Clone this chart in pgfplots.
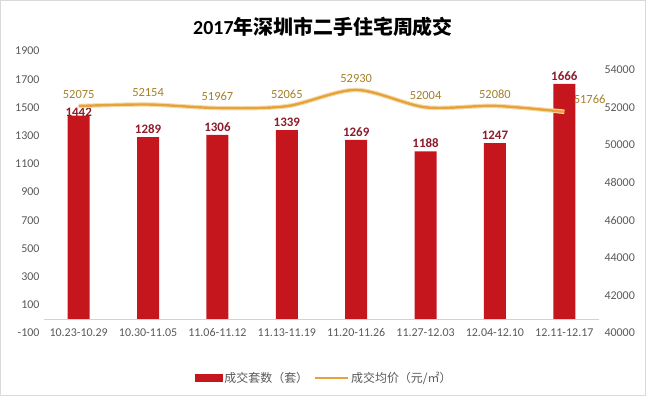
\documentclass[border=0pt]{standalone}
\usepackage{pgfplots}
\pgfplotsset{compat=1.18}
\usepackage{fontspec}
\setmainfont{Carlito}
\newfontfamily\cjk{Noto Sans CJK SC}
\definecolor{barred}{HTML}{C5161D}
\definecolor{barlab}{HTML}{8E1B2B}
\definecolor{lineor}{HTML}{E6A33A}
\definecolor{lineglow}{HTML}{F5DDB0}
\definecolor{linelab}{HTML}{A4802A}
\definecolor{labgray}{HTML}{595959}
\begin{document}
\begin{tikzpicture}[x=1bp,y=1bp]
\useasboundingbox (0,0) rectangle (646,396);
\draw[gray!30] (0.5,0.5) rectangle (645.5,395.5);
\node[text=black] at (323,369) {\fontsize{20}{24}\selectfont\bfseries 2017\cjk 年深圳市二手住宅周成交};
\begin{axis}[
  at={(44bp,63bp)}, anchor=south west,
  width=555bp, height=282bp, scale only axis,
  xmin=-0.5, xmax=7.5, ymin=-100, ymax=1900,
  xtick={0,...,7},
  xticklabels={10.23-10.29,10.30-11.05,11.06-11.12,11.13-11.19,11.20-11.26,11.27-12.03,12.04-12.10,12.11-12.17},
  ytick={-100,100,...,1900},
  axis line style={draw=none}, major tick length=0,
  tick label style={font=\fontsize{12}{14}\selectfont, text=labgray},
  xticklabel style={anchor=center},
  yticklabel style={xshift=-1bp},
  extra y ticks={0}, extra y tick labels={},
  extra y tick style={grid=major, major grid style={draw=gray!35, line width=0.8pt}},
  /pgf/number format/1000 sep={},
  /pgf/number format/assume math mode=true,
  clip=false,
]
\addplot[ybar, bar width=22bp, fill=barred, draw=none] coordinates {
(0,1442)(1,1289)(2,1306)(3,1339)(4,1269)(5,1188)(6,1247)(7,1666)};
\addplot[draw=none, mark=none, nodes near coords,
  every node near coord/.append style={anchor=south, font=\fontsize{13}{15}\selectfont\bfseries, text=barlab}]
  coordinates {(1,1289)(2,1306)(3,1339)(4,1269)(5,1188)(6,1247)(7,1666)};
\addplot[draw=none, mark=none, nodes near coords,
  every node near coord/.append style={anchor=center, yshift=3bp, font=\fontsize{13}{15}\selectfont\bfseries, text=barlab}]
  coordinates {(0,1442)};
\end{axis}
\begin{axis}[
  at={(44bp,63bp)}, anchor=south west,
  width=555bp, height=282bp, scale only axis,
  xmin=-0.5, xmax=7.5, ymin=40000, ymax=55000,
  axis y line*=right, axis x line=none,
  ytick={40000,42000,...,54000},
  axis line style={draw=none}, major tick length=0,
  tick label style={font=\fontsize{12}{14}\selectfont, text=labgray},
  yticklabel style={xshift=2bp},
  scaled y ticks=false,
  /pgf/number format/1000 sep={},
  /pgf/number format/assume math mode=true,
  clip=false,
  legend style={at={(0.505,-0.16)}, anchor=center, draw=none, fill=none,
    legend columns=2, font=\fontsize{12}{14}\selectfont\cjk, text=labgray,
    /tikz/every even column/.append style={column sep=4bp}},
]
\addlegendimage{legend image code/.code={\fill[barred] (0bp,-3.5bp) rectangle (27bp,3.5bp);}}
\addlegendentry{成交套数（套）}
\addplot[lineglow, line width=4.5bp, smooth, forget plot] coordinates {
(0,52075)(1,52154)(2,51967)(3,52065)(4,52930)(5,52004)(6,52080)(7,51766)};
\addplot[lineor, line width=2.4bp, smooth,
  legend image code/.code={\draw[lineor, line width=2bp] (0bp,0bp) -- (33bp,0bp);}] coordinates {
(0,52075)(1,52154)(2,51967)(3,52065)(4,52930)(5,52004)(6,52080)(7,51766)};
\addlegendentry{成交均价（元/㎡）}
\addplot[draw=none, mark=none, forget plot, nodes near coords,
  every node near coord/.append style={anchor=south, yshift=4bp, font=\fontsize{12.5}{14}\selectfont, text=linelab}]
  coordinates {(0,52075)(1,52154)(2,51967)(3,52065)(4,52930)(5,52004)(6,52080)};
\addplot[draw=none, mark=none, forget plot, nodes near coords,
  every node near coord/.append style={anchor=west, xshift=6bp, yshift=12bp, font=\fontsize{12.5}{14}\selectfont, text=linelab}]
  coordinates {(7,51766)};
\end{axis}
\end{tikzpicture}
\end{document}
